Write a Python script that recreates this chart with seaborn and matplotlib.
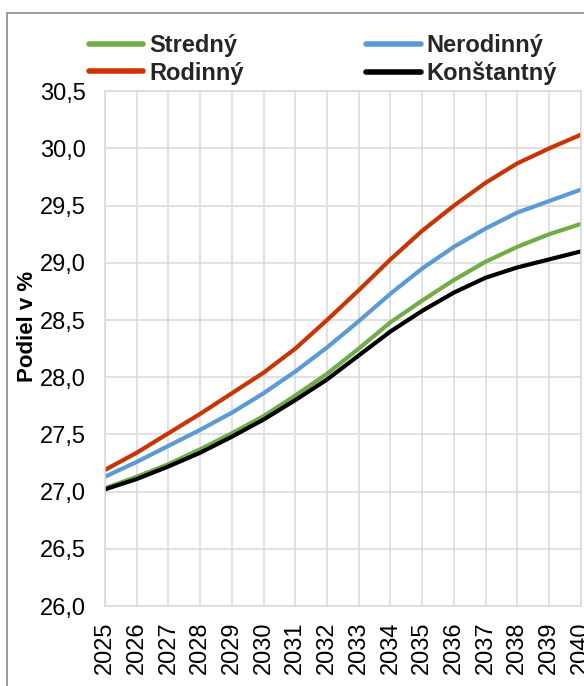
import numpy as np
import pandas as pd
import matplotlib
matplotlib.use("Agg")
import matplotlib.pyplot as plt
import matplotlib.patches as mpatches
from matplotlib.ticker import FuncFormatter, MultipleLocator
import seaborn as sns

# ── Data ───────────────────────────────────────────────
YEARS = list(range(2025, 2041))
STREDNY = [27.03, 27.13, 27.24, 27.37, 27.51, 27.66, 27.84, 28.03,
           28.25, 28.48, 28.67, 28.85, 29.01, 29.14, 29.25, 29.34]
NERODINNY = [27.13, 27.26, 27.40, 27.54, 27.69, 27.86, 28.05, 28.26,
             28.49, 28.73, 28.95, 29.14, 29.30, 29.44, 29.54, 29.64]
RODINNY = [27.19, 27.34, 27.51, 27.68, 27.86, 28.04, 28.25, 28.50,
           28.76, 29.03, 29.28, 29.50, 29.70, 29.87, 30.00, 30.12]
KONSTANTNY = [27.02, 27.11, 27.22, 27.34, 27.48, 27.63, 27.80, 27.98,
              28.19, 28.40, 28.58, 28.74, 28.87, 28.96, 29.03, 29.10]

SERIES = ["Stredný", "Nerodinný", "Rodinný", "Konštantný"]
COLORS = {"Stredný": "#70AD47", "Nerodinný": "#5B9BD5",
          "Rodinný": "#CC3300", "Konštantný": "#000000"}

# ── Style ──────────────────────────────────────────────
sns.set_theme(style="whitegrid")
plt.rcParams["font.family"] = ["Liberation Sans", "DejaVu Sans"]
GRID = "#D9D9D9"

df = pd.DataFrame({
    "Rok": YEARS * 4,
    "Podiel": STREDNY + NERODINNY + RODINNY + KONSTANTNY,
    "Scenár": sum([[s] * len(YEARS) for s in SERIES], []),
})

fig = plt.figure(figsize=(5.84, 6.86), dpi=100)
ax = fig.add_axes([105 / 584, 1 - 606 / 686, (580.7 - 105) / 584, (606 - 91.3) / 686])

sns.lineplot(data=df, x="Rok", y="Podiel", hue="Scenár", hue_order=SERIES,
             palette=COLORS, linewidth=3, ax=ax, legend=True)

ax.set_xlim(2025, 2040)
ax.set_ylim(26.0, 30.5)
ax.xaxis.set_major_locator(MultipleLocator(1))
ax.yaxis.set_major_locator(MultipleLocator(0.5))
ax.yaxis.set_major_formatter(FuncFormatter(lambda v, _: f"{v:.1f}".replace(".", ",")))
ax.set_xticks(YEARS)
ax.set_xticklabels([str(y) for y in YEARS], rotation=90)
ax.tick_params(axis="both", length=0, labelsize=17, colors="#000000")
ax.tick_params(axis="y", pad=14)
ax.tick_params(axis="x", pad=11)
ax.grid(True, color=GRID, linewidth=1.1)
for sp in ax.spines.values():
    sp.set_color(GRID)
    sp.set_linewidth(1.1)

ax.set_xlabel("")
ax.set_ylabel("Podiel v %", fontsize=16, fontweight="bold", color="#000000")
ax.yaxis.set_label_coords(-0.141, 0.544)

# legend: two columns, order as in the reference
handles, labels = ax.get_legend_handles_labels()
lookup = dict(zip(labels, handles))
order = ["Stredný", "Rodinný", "Nerodinný", "Konštantný"]
ax.get_legend().remove()
leg = fig.legend([lookup[k] for k in order], order, ncol=2, frameon=False,
                 loc="upper left", bbox_to_anchor=(89 / 584, 1 - 34 / 686),
                 prop={"weight": "bold", "size": 17}, handlelength=2.3,
                 handletextpad=0.25, columnspacing=5.2, labelspacing=0.2,
                 borderaxespad=0, borderpad=0)
for line in leg.get_lines():
    line.set_linewidth(4)

# outer chart frame (cropped on right and bottom)
fig.patches.append(mpatches.Rectangle((6.5 / 584, -0.2), 1.5, 1.2 - 13 / 686,
                                      transform=fig.transFigure, fill=False,
                                      edgecolor="#8C8C8C", linewidth=1.2))

fig.savefig("out.png", dpi=100)
